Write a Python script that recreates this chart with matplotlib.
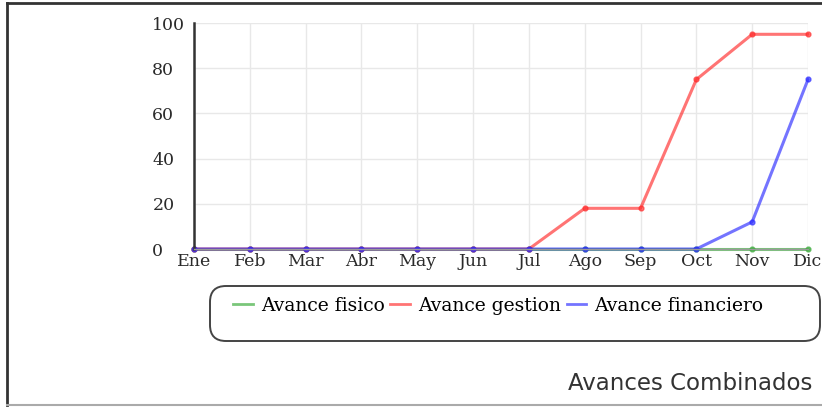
import matplotlib.pyplot as plt
from matplotlib.patches import FancyBboxPatch
from matplotlib.lines import Line2D

months = ["Ene", "Feb", "Mar", "Abr", "May", "Jun", "Jul", "Ago", "Sep", "Oct", "Nov", "Dic"]
avance_fisico = [0, 0, 0, 0, 0, 0, 0, 0, 0, 0, 0, 0]
avance_gestion = [0, 0, 0, 0, 0, 0, 0, 18, 18, 75, 95, 95]
avance_financiero = [0, 0, 0, 0, 0, 0, 0, 0, 0, 0, 12, 75]
y_ticks = [0, 20, 40, 60, 80, 100]

serif = "DejaVu Serif"
W, H = 822, 407

fig = plt.figure(figsize=(W / 100, H / 100), dpi=100)
ax = fig.add_axes([194 / W, 1 - 249 / H, 614 / W, 226 / H])

x = list(range(len(months)))
series = [
    ("Avance fisico", avance_fisico, "#33a833"),
    ("Avance gestion", avance_gestion, "#ff2a2a"),
    ("Avance financiero", avance_financiero, "#2a2aff"),
]
for label, vals, color in series:
    ax.plot(x, vals, color=color, alpha=0.65, lw=2.2, marker="o", ms=3.5,
            label=label, solid_capstyle="round", clip_on=False)

ax.set_xlim(0, len(months) - 1)
ax.set_ylim(0, 100)
ax.set_xticks(x)
ax.set_xticklabels(months, fontfamily=serif, fontsize=12.5, color="#2a2a2a")
ax.set_yticks(y_ticks)
ax.set_yticklabels([str(v) for v in y_ticks], fontfamily=serif, fontsize=12.5,
                   color="#2a2a2a", ha="left")
ax.tick_params(axis="both", length=0)
ax.tick_params(axis="y", pad=30)
ax.tick_params(axis="x", pad=3)
ax.grid(True, color="#e8e8e8", lw=1.0)
ax.set_axisbelow(True)
for side in ("top", "right"):
    ax.spines[side].set_visible(False)
ax.spines["left"].set_color("#333333")
ax.spines["left"].set_linewidth(1.8)
ax.spines["bottom"].set_color("#999999")
ax.spines["bottom"].set_linewidth(1.0)

# legend box with rounded corners (inch coordinates)
box = FancyBboxPatch((2.10, (H - 341) / 100), 6.10, 0.55,
                     boxstyle="round,pad=0,rounding_size=0.16",
                     transform=fig.dpi_scale_trans, facecolor="white",
                     edgecolor="#444444", lw=1.4)
fig.patches.append(box)

handles = [Line2D([0], [0], color=c, alpha=0.65, lw=2.0) for _, _, c in series]
leg = fig.legend(handles, [s[0] for s in series], loc="center left",
                 bbox_to_anchor=(224 / W, 1 - 306 / H), ncol=3, frameon=False,
                 prop={"family": serif, "size": 13.5}, handlelength=1.05,
                 handletextpad=0.42, columnspacing=0.3, borderpad=0)

fig.text(812 / W, 1 - 383 / H, "Avances Combinados", ha="right", va="center",
         fontsize=16.5, family="DejaVu Sans", color="#333333")

# outer frame
fig.add_artist(Line2D([7 / W, 7 / W], [1 - 3 / H, 1 - 405 / H],
                      transform=fig.transFigure, color="#333333", lw=2.0))
fig.add_artist(Line2D([7 / W, 1], [1 - 3 / H, 1 - 3 / H],
                      transform=fig.transFigure, color="#333333", lw=2.0))
fig.add_artist(Line2D([7 / W, 1], [1 - 405 / H, 1 - 405 / H],
                      transform=fig.transFigure, color="#aaaaaa", lw=1.5))

fig.savefig("out.png", dpi=100)
